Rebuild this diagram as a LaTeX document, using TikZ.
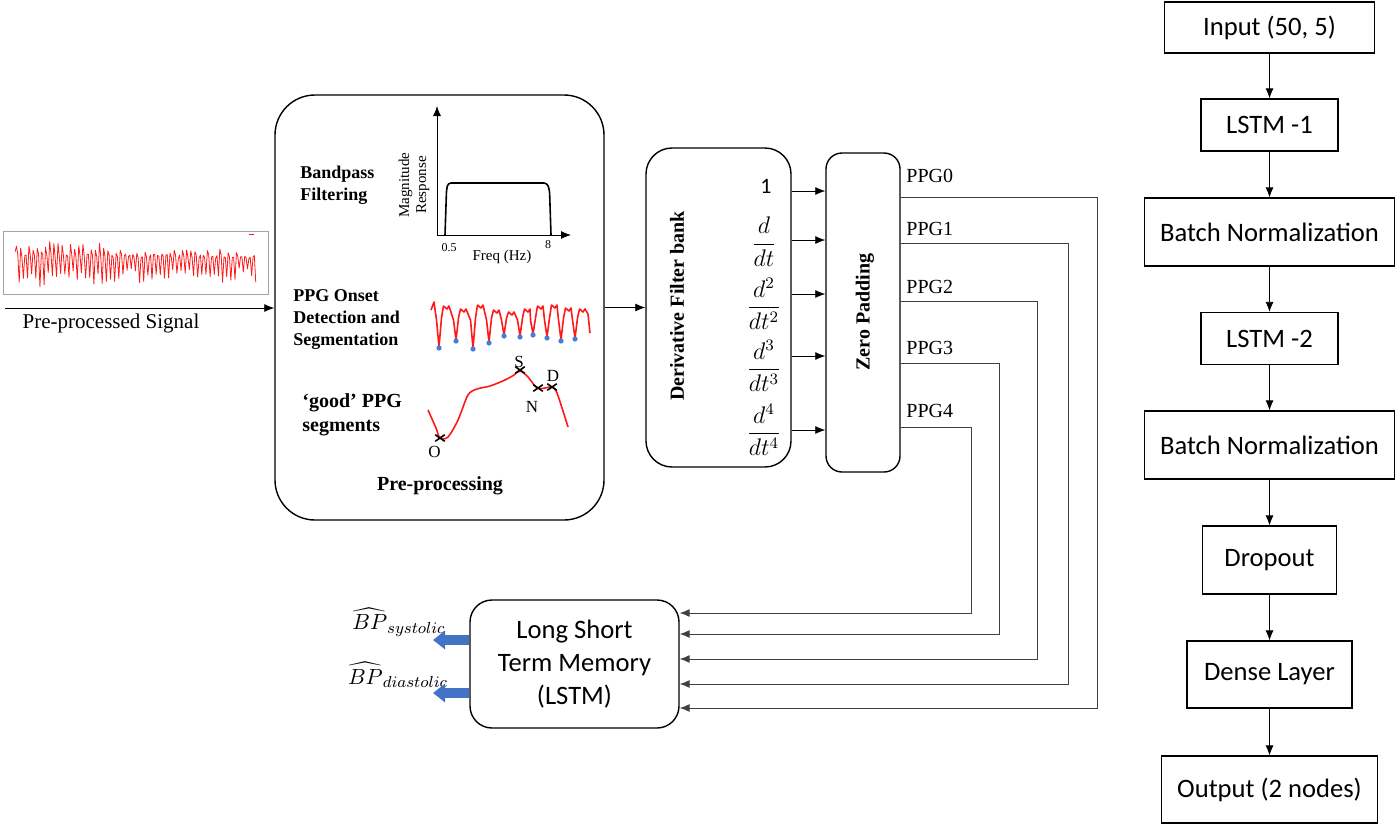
\documentclass[tikz,border=0pt]{standalone}
\usepackage{fontspec}
\setmainfont{Liberation Serif}
\newfontfamily\calibri{Carlito}
\usepackage{amsmath}
\usetikzlibrary{arrows.meta,shapes.misc}
\definecolor{sigred}{RGB}{255,25,25}
\definecolor{onsetblue}{RGB}{70,125,215}
\definecolor{outblue}{RGB}{68,114,196}
\tikzstyle{roundbox}=[draw,line width=0.7pt,inner sep=0pt]
\tikzstyle{layer}=[draw,line width=0.6pt,inner sep=0pt,font=\calibri\fontsize{13.3}{16}\selectfont]
\tikzstyle{boldlbl}=[inner sep=0pt,align=left,font=\bfseries\fontsize{9}{11}\selectfont]
\tikzstyle{lbl}=[inner sep=0pt,font=\fontsize{10}{12}\selectfont]
\tikzstyle{tinylbl}=[inner sep=0pt,font=\fontsize{7.5}{8.5}\selectfont]
\tikzstyle{fraclbl}=[inner sep=0pt,font=\fontsize{11.5}{13}\selectfont]
\tikzstyle{segmark}=[cross out,draw,line width=0.8pt,minimum width=4pt,minimum height=2.5pt,inner sep=0pt]
\tikzstyle{wire}=[draw=black!75,line width=0.5pt]

\begin{document}
\begin{tikzpicture}[x=0.5pt,y=-0.5pt,>={Latex[length=5pt,width=4pt]}]
\useasboundingbox (0,0) rectangle (1400,825);

% input signal
\node[draw=black!35,line width=0.5pt,minimum width=132.5pt,minimum height=31.5pt,inner sep=0pt] (sigbox) at (135.5,262.5) {};
\pgfmathsetseed{7}
\draw[sigred,line width=0.4pt,line join=round] (15,252) \foreach \k in {0,...,57} { -- ({16.5+4.15*\k},{249+10*rnd-9*(\k<22)*rnd}) -- ({17.8+4.15*\k},{258-4*rnd}) -- ({19.2+4.15*\k},{268+15*rnd+7*(\k<22)*rnd}) };
\draw[sigred] (249,234) -- (254,234);
\coordinate (sigin) at (5,308);
\node[lbl,font=\fontsize{10.5}{12}\selectfont] (siglbl) at (111,323) {Pre-processed Signal};

% pre-processing block
\node[roundbox,rounded corners=20pt,minimum width=164.5pt,minimum height=212.5pt] (pre) at (439.5,307.5) {};
\node[boldlbl,anchor=west] (bptxt) at (300,185) {Bandpass\\Filtering};
\draw[->] (437,235) -- (437,106);
\draw[->] (437,235) -- (571,235);
\draw[line width=0.8pt,rounded corners=1.5pt] (445,235) -- (446.5,190) -- (448,183) -- (547,183) -- (549.5,190) -- (551,235);
\node[tinylbl,rotate=90,align=center] (mag) at (414,185) {Magnitude\\Response};
\node[inner sep=0pt,font=\fontsize{6}{7}\selectfont] (f05) at (449,248) {0.5};
\node[inner sep=0pt,font=\fontsize{6}{7}\selectfont] (f8) at (548,245) {8};
\node[tinylbl] (freq) at (502,257) {Freq (Hz)};

\node[boldlbl,anchor=west] (onset) at (293,320) {PPG Onset\\Detection and\\Segmentation};
\draw[sigred,line width=0.8pt,line join=round] (431,310) -- (434,302)
  \foreach \x/\y/\t in {439/347/306, 456/340/309, 473/348/305, 489/342/310, 504/335/312, 520/336/309, 533/334/306, 547/337/305, 561/340/308, 575/338/309}
  { -- (\x-2.5,320) -- (\x,\y) -- (\x+2.5,318) -- (\x+4.5,\t) -- (\x+8,\t+3) -- (\x+10,\t) }
  -- (588,314) -- (590,333);
\foreach \x/\y in {439/347, 456/340, 473/348, 489/342, 504/335, 520/336, 533/334, 547/337, 561/340, 575/338}
  \fill[onsetblue] (\x,\y+1) circle (1.3pt);

\node[boldlbl,anchor=west,font=\bfseries\fontsize{10}{12}\selectfont] (good) at (302,415) {`good' PPG\\segments};
\draw[sigred,line width=0.8pt] plot[smooth] coordinates {(428,410) (436,428) (440,438) (448,437) (458,420) (468,395) (477,389) (490,386) (505,380) (514,375) (520,371) (528,377) (537,388) (545,388) (552,387) (557,393) (568,427)};
\node[segmark] (mO) at (440,438) {};
\node[segmark] (mS) at (520,370) {};
\node[segmark] (mN) at (538,388) {};
\node[segmark] (mD) at (552,387) {};
\node[tinylbl,font=\fontsize{8.5}{10}\selectfont] at (434.5,452) {O};
\node[tinylbl,font=\fontsize{8.5}{10}\selectfont] at (519,362) {S};
\node[tinylbl,font=\fontsize{8.5}{10}\selectfont] at (532,407) {N};
\node[tinylbl,font=\fontsize{8.5}{10}\selectfont] at (553,376) {D};
\node[inner sep=0pt,font=\bfseries\fontsize{10}{12}\selectfont] (pretxt) at (440,486) {Pre-processing};

% derivative filter bank
\node[roundbox,rounded corners=13pt,minimum width=72.5pt,minimum height=159.5pt] (deriv) at (718.5,307.5) {};
\node[inner sep=0pt,rotate=90,font=\bfseries\fontsize{10}{12}\selectfont] (dtxt) at (677,306) {Derivative Filter bank};
\node[inner sep=0pt,font=\calibri\fontsize{11}{13}\selectfont] (f0) at (766,186) {1};
\node[fraclbl] (f1) at (764,242) {$\displaystyle\frac{d}{dt}$};
\node[fraclbl] (f2) at (764,304) {$\displaystyle\frac{d^2}{dt^2}$};
\node[fraclbl] (f3) at (764,366) {$\displaystyle\frac{d^3}{dt^3}$};
\node[fraclbl] (f4) at (764,430) {$\displaystyle\frac{d^4}{dt^4}$};

% zero padding
\node[roundbox,rounded corners=8pt,minimum width=37pt,minimum height=159.5pt] (zero) at (863,312.5) {};
\node[inner sep=0pt,rotate=90,font=\bfseries\fontsize{10}{12}\selectfont] (ztxt) at (865,312) {Zero Padding};

% lstm
\node[roundbox,rounded corners=11pt,minimum width=104.5pt,minimum height=64pt,align=center,font=\calibri\fontsize{13.3}{16.3}\selectfont] (lstm) at (574.5,664) {Long Short\\Term Memory\\(LSTM)};
\coordinate (sysout) at (433,640);
\coordinate (diaout) at (433,693);
\node[inner sep=0pt,font=\fontsize{11}{13}\selectfont] (sys) at (399,622) {$\widehat{BP}_{systolic}$};
\node[inner sep=0pt,font=\fontsize{11}{13}\selectfont] (dia) at (398,675) {$\widehat{BP}_{diastolic}$};

% connections
\draw[->] (sigin) -- (pre.west |- sigin);
\draw[->] (pre.east) -- (deriv.west);
\foreach \y in {191,240,294,356,430}
  \draw[->] (deriv.east |- 0,\y) -- (zero.west |- 0,\y);
\foreach \k/\x/\ya/\yb/\yl in {0/1097/197/708/176, 1/1068/243/684/229, 2/1037/301/659/287, 3/999/363/634/348, 4/971/427/613/411}{
  \coordinate (t\k) at (\x,\ya);
  \coordinate (b\k) at (\x,\yb);
  \draw[wire,->] (zero.east |- t\k) -- (t\k) -- (b\k) -- (lstm.east |- b\k);
  \node[lbl,anchor=west] (ppg\k) at (906,\yl) {PPG\k};
}
\draw[outblue,line width=5pt,-{Triangle[length=6pt,width=9pt]}] (lstm.west |- sysout) -- (sysout);
\draw[outblue,line width=5pt,-{Triangle[length=6pt,width=9pt]}] (lstm.west |- diaout) -- (diaout);

% network layers
\node[layer,minimum width=105pt,minimum height=25.5pt] (inp) at (1269.5,27.5) {Input (50, 5)};
\node[layer,minimum width=68.5pt,minimum height=26pt] (l1) at (1269.5,125) {LSTM -1};
\node[layer,minimum width=125pt,minimum height=34pt] (bn1) at (1269.5,232) {Batch Normalization};
\node[layer,minimum width=68.5pt,minimum height=26pt] (l2) at (1269.5,338.5) {LSTM -2};
\node[layer,minimum width=125pt,minimum height=34pt] (bn2) at (1269.5,445) {Batch Normalization};
\node[layer,minimum width=67pt,minimum height=34pt] (drop) at (1269.5,560) {Dropout};
\node[layer,minimum width=82.5pt,minimum height=33.5pt] (dense) at (1269.5,674.5) {Dense Layer};
\node[layer,minimum width=108pt,minimum height=33.5pt] (outp) at (1269.5,789.5) {Output (2 nodes)};
\foreach \a/\b in {inp/l1,l1/bn1,bn1/l2,l2/bn2,bn2/drop,drop/dense,dense/outp}
  \draw[->] (\a.south) -- (\b.north);

\end{tikzpicture}
\end{document}
